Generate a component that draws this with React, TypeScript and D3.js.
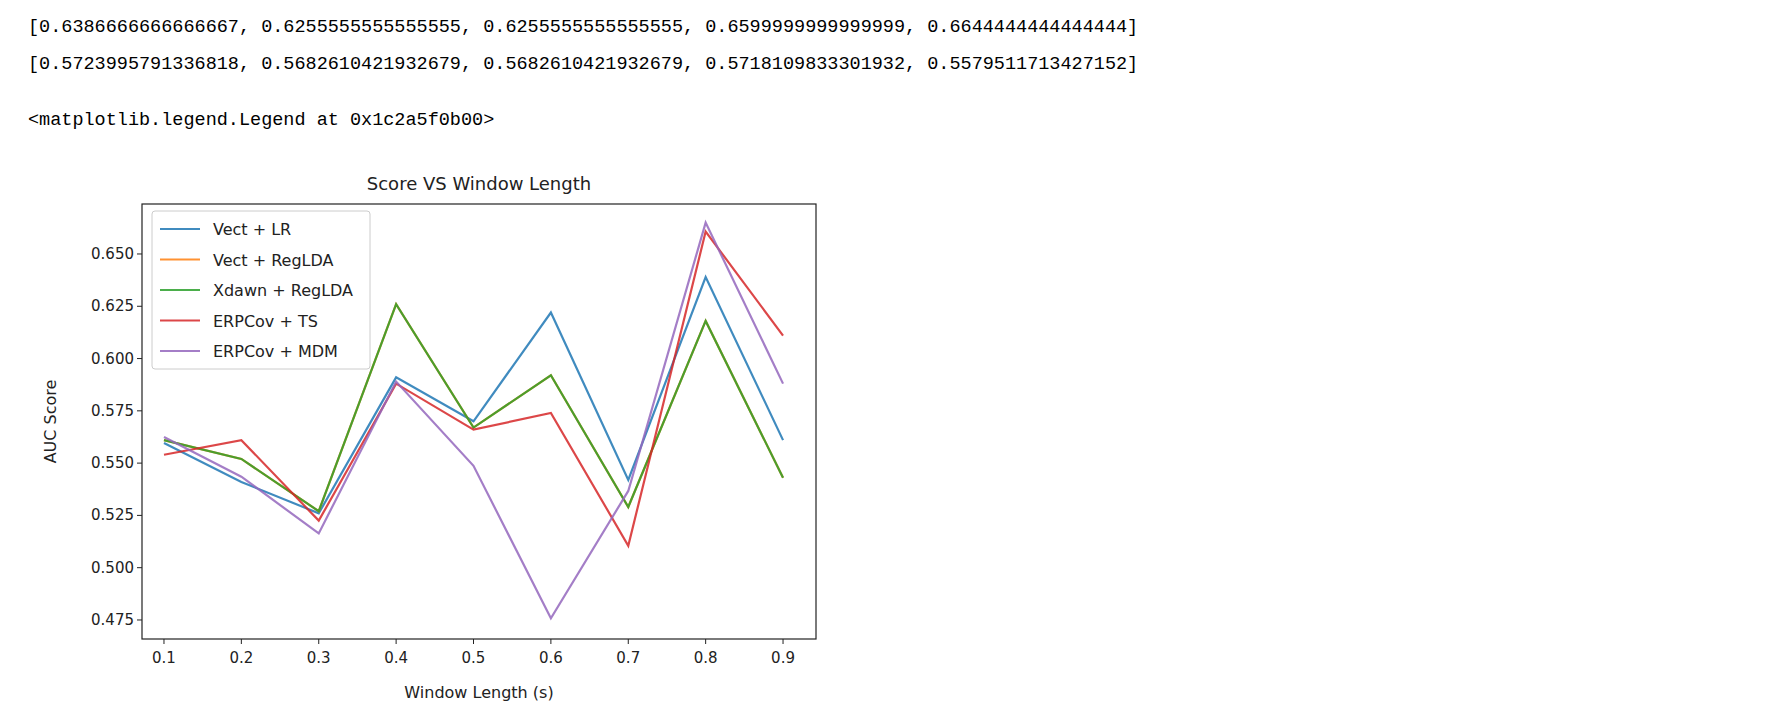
import * as d3 from 'd3';

const windows = [0.1, 0.2, 0.3, 0.4, 0.5, 0.6, 0.7, 0.8, 0.9];
const seriesNames = ['Vect + LR', 'Vect + RegLDA', 'Xdawn + RegLDA', 'ERPCov + TS', 'ERPCov + MDM'];
const seriesColors = ['#1f77b4', '#ff7f0e', '#2ca02c', '#d62728', '#9467bd'];
const vectLR = [0.5596, 0.541, 0.526, 0.591, 0.57, 0.622, 0.542, 0.639, 0.561];
const vectRegLDA = [0.561, 0.552, 0.527, 0.626, 0.567, 0.592, 0.529, 0.618, 0.543];
const xdawnRegLDA = [0.561, 0.552, 0.527, 0.626, 0.567, 0.592, 0.529, 0.618, 0.543];
const erpcovTS = [0.554, 0.561, 0.5225, 0.588, 0.566, 0.574, 0.5105, 0.6607, 0.611];
const erpcovMDM = [0.5625, 0.5435, 0.5164, 0.589, 0.5487, 0.4758, 0.5367, 0.665, 0.588];
const seriesValues = [vectLR, vectRegLDA, xdawnRegLDA, erpcovTS, erpcovMDM];
const yTicks = [0.475, 0.5, 0.525, 0.55, 0.575, 0.6, 0.625, 0.65];
const printLines = [
  '[0.6386666666666667, 0.6255555555555555, 0.6255555555555555, 0.6599999999999999, 0.6644444444444444]',
  '[0.5723995791336818, 0.5682610421932679, 0.5682610421932679, 0.5718109833301932, 0.5579511713427152]',
  '<matplotlib.legend.Legend at 0x1c2a5f0b00>',
];
const printY = [32, 69, 125];

const L = 142, R = 816, T = 204, B = 639;
const font = 'DejaVu Sans, sans-serif';

export default function App() {
  const x = d3.scaleLinear().domain([0.0716, 0.9426]).range([L, R]);
  const y = d3.scaleLinear().domain([0.4659, 0.6739]).range([B, T]);
  const line = d3.line<number>().x((_, i) => x(windows[i])).y((d) => y(d));
  return (
    <svg width={1788} height={714} style={{ position: 'absolute', left: 0, top: 0, background: '#fff' }}>
      {printLines.map((t, i) => (
        <text key={i} x={28} y={printY[i]} fontFamily="Liberation Mono, monospace" fontSize={18.5} fill="#000">{t}</text>
      ))}
      <text x={(L + R) / 2} y={190} textAnchor="middle" fontFamily={font} fontSize={18} fill="#222">Score VS Window Length</text>
      <g>
        {seriesValues.map((v, i) => (
          <path key={i} d={line(v) || ''} fill="none" stroke={seriesColors[i]} strokeWidth={2.2} strokeOpacity={0.85} />
        ))}
      </g>
      <rect x={L} y={T} width={R - L} height={B - T} fill="none" stroke="#222" strokeWidth={1.2} />
      {windows.map((w) => (
        <g key={w}>
          <line x1={x(w)} x2={x(w)} y1={B} y2={B + 5} stroke="#222" />
          <text x={x(w)} y={B + 24} textAnchor="middle" fontFamily={font} fontSize={15} fill="#222">{d3.format('.1f')(w)}</text>
        </g>
      ))}
      {yTicks.map((t) => (
        <g key={t}>
          <line x1={L - 5} x2={L} y1={y(t)} y2={y(t)} stroke="#222" />
          <text x={L - 8} y={y(t) + 5} textAnchor="end" fontFamily={font} fontSize={15} fill="#222">{d3.format('.3f')(t)}</text>
        </g>
      ))}
      <text x={(L + R) / 2} y={698} textAnchor="middle" fontFamily={font} fontSize={16} fill="#222">Window Length (s)</text>
      <text transform={`translate(56,${(T + B) / 2}) rotate(-90)`} textAnchor="middle" fontFamily={font} fontSize={16} fill="#222">AUC Score</text>
      <rect x={152} y={211} width={218} height={158} rx={3} fill="#fff" fillOpacity={0.8} stroke="#ccc" />
      {seriesNames.map((n, i) => (
        <g key={n}>
          <line x1={160} x2={200} y1={229 + i * 30.5} y2={229 + i * 30.5} stroke={seriesColors[i]} strokeWidth={2.2} strokeOpacity={0.85} />
          <text x={213} y={235 + i * 30.5} fontFamily={font} fontSize={16} fill="#222">{n}</text>
        </g>
      ))}
    </svg>
  );
}
